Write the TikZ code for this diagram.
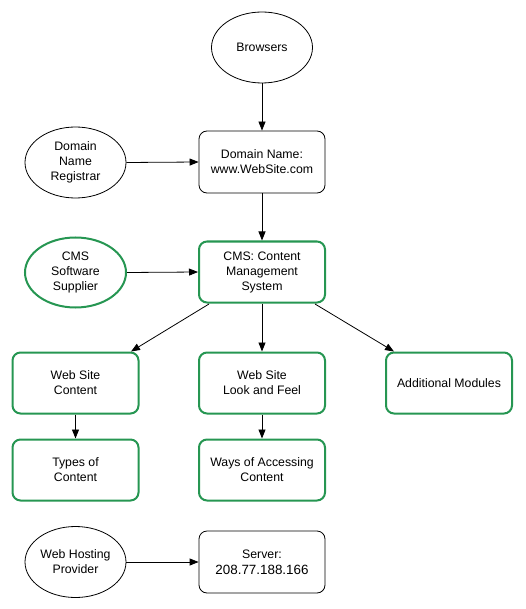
\documentclass[tikz,border=0pt]{standalone}
\usepackage{fontspec}
\setmainfont{Liberation Sans}
\usetikzlibrary{arrows.meta,shapes.geometric}
\definecolor{cmsgreen}{RGB}{38,150,82}
\begin{document}
\begin{tikzpicture}[x=1pt,y=-1pt,
  every node/.style={font=\fontsize{12.3}{15}\selectfont, align=center, inner sep=0pt},
  oval/.style={ellipse, draw=black, line width=0.8pt, minimum width=101pt, minimum height=71pt},
  goval/.style={ellipse, draw=cmsgreen, line width=2pt, minimum width=101pt, minimum height=70pt},
  bbox/.style={rectangle, rounded corners=8pt, draw=black, line width=0.8pt, minimum width=126pt, minimum height=62pt},
  gbox/.style={rectangle, rounded corners=8pt, draw=cmsgreen, line width=2pt, minimum width=126pt, minimum height=61pt},
  conn/.style={draw=black, line width=0.8pt, -{Triangle[length=9pt,width=7pt]}}
]
\useasboundingbox (0,0) rectangle (525,609);
\node[oval] (browsers) at (262,47.5) {Browsers};
\node[bbox] (domain) at (262,162) {Domain Name:\\www.WebSite.com};
\node[oval] (registrar) at (75.5,162.5) {Domain\\Name\\Registrar};
\node[gbox] (cms) at (262,272) {CMS: Content\\Management\\System};
\node[goval] (supplier) at (75.5,272.5) {CMS\\Software\\Supplier};
\node[gbox] (content) at (75.5,383) {Web Site\\Content};
\node[gbox] (look) at (262,383) {Web Site\\Look and Feel};
\node[gbox] (modules) at (449,383) {Additional Modules};
\node[gbox] (types) at (75.5,470) {Types of\\Content};
\node[gbox] (ways) at (262,470) {Ways of Accessing\\Content};
\node[oval] (hosting) at (75.5,562) {Web Hosting\\Provider};
\node[bbox] (server) at (262,562) {Server:\\[1pt]{\fontsize{13.4}{15}\selectfont 208.77.188.166}};
\draw[conn] (browsers) -- (domain);
\draw[conn] (registrar.east) -- (domain.west);
\draw[conn] (domain) -- (cms);
\draw[conn] (supplier.east) -- (cms.west);
\coordinate (cmsL) at (209,304);
\coordinate (cmsR) at (315,304);
\draw[conn] (cmsL) -- (content.north east -| 131,0);
\draw[conn] (cms) -- (look);
\draw[conn] (cmsR) -- (modules.north west -| 394,0);
\draw[conn] (content) -- (types);
\draw[conn] (look) -- (ways);
\draw[conn] (hosting.east) -- (server.west);
\end{tikzpicture}
\end{document}
